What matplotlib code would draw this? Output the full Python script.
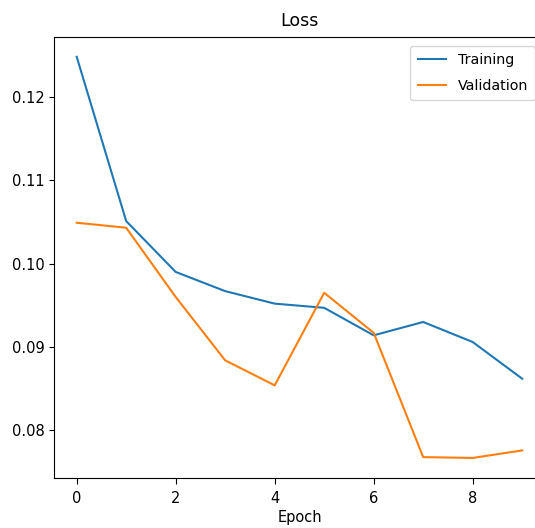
import matplotlib
matplotlib.use('Agg')
import matplotlib.pyplot as plt

# Loss values
epochs = list(range(10))
train_loss = [0.1248, 0.1051, 0.0990, 0.0967, 0.0952, 0.0947, 0.0914, 0.0930, 0.0906, 0.0862]
val_loss = [0.1049, 0.1043, 0.0960, 0.0884, 0.0854, 0.0965, 0.0917, 0.0768, 0.0767, 0.0776]

fig = plt.figure(figsize=(5.35, 5.28), dpi=100)
# the reference is cropped on the right, so the axes runs past the figure edge
ax = fig.add_axes([0.1017, 0.0947, 0.916, 0.8358])

ax.plot(epochs, train_loss, label='Training')
ax.plot(epochs, val_loss, label='Validation')
ax.set_title('Loss', fontsize=12.5, pad=7.5)
ax.set_xlabel('Epoch', fontsize=10.5, labelpad=3)
ax.tick_params(axis='x', length=4.3, pad=5, labelsize=10.5)
ax.tick_params(axis='y', labelsize=10.5)
ax.legend(loc='upper right', fontsize=10.3, labelspacing=0.85, borderpad=0.5,
          borderaxespad=0.65, handlelength=2.0)

fig.savefig('out.png', dpi=100)
